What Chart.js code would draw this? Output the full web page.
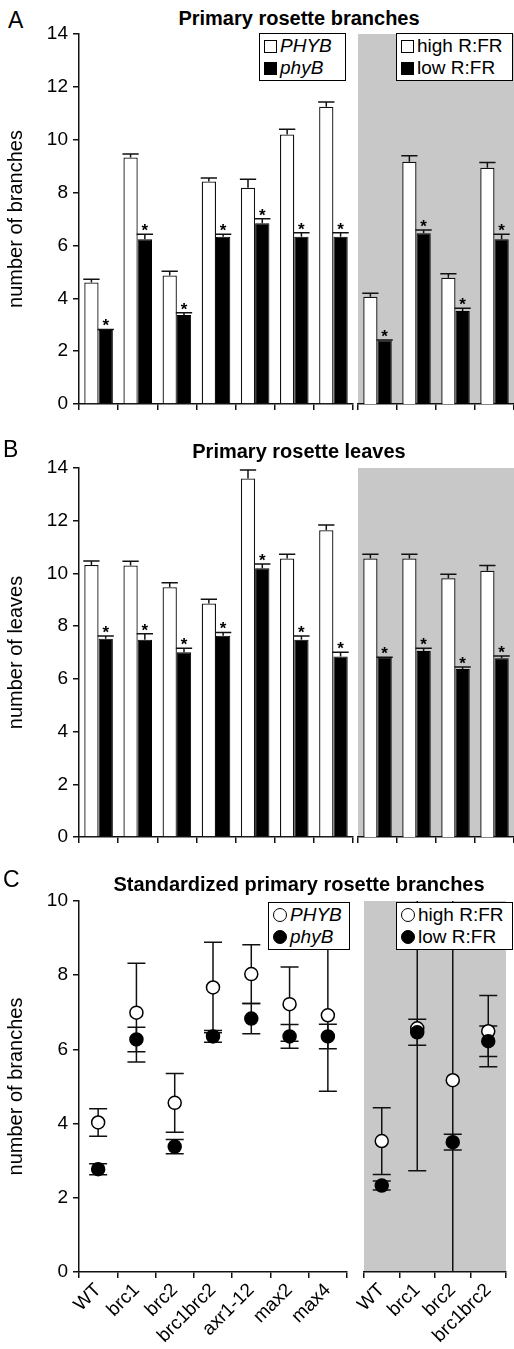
<!DOCTYPE html>
<html>
<head>
<meta charset="utf-8">
<script src="https://cdn.jsdelivr.net/npm/chart.js@4.4.1/dist/chart.umd.min.js"></script>
<style>
  body { margin: 0; background: #fff; font-family: 'Liberation Sans', Arial, sans-serif; }
  #page { position: relative; width: 514px; height: 1349px; overflow: hidden; }
  canvas { position: absolute; }
  .txt { position: absolute; color: #000; white-space: nowrap; }
  .letter { font-size: 23px; line-height: 23px; }
  .title { font-weight: bold; font-size: 20px; line-height: 20px; text-align: center; left: 84px; width: 430px; }
  .legend { position: absolute; box-sizing: border-box; background: #fff; border: 1.5px solid #000;
            font-size: 19px; line-height: 22px; padding: 1px 0 0 4px; height: 48px; }
  .sym { display: inline-block; box-sizing: border-box; width: 13px; height: 13px; border: 1.5px solid #000;
         background: #fff; margin-right: 3px; vertical-align: -1px; }
  .sym.fill { background: #000; }
  .sym.dot { border-radius: 50%; width: 14px; height: 14px; }
</style>
</head>
<body>
<div id="page">
  <div class="txt letter" style="left:8px;top:9px">A</div>
  <div class="txt title" style="top:8px">Primary rosette branches</div>
  <canvas id="aL" width="355" height="440" style="left:0;top:0"></canvas>
  <canvas id="aR" width="158" height="440" style="left:356px;top:0"></canvas>

  <div class="txt letter" style="left:3px;top:438px">B</div>
  <div class="txt title" style="top:441px">Primary rosette leaves</div>
  <canvas id="bL" width="355" height="430" style="left:0;top:440px"></canvas>
  <canvas id="bR" width="158" height="430" style="left:356px;top:440px"></canvas>

  <div class="txt letter" style="left:3px;top:868px">C</div>
  <div class="txt title" style="top:874px">Standardized primary rosette branches</div>
  <canvas id="cL" width="355" height="479" style="left:0;top:870px"></canvas>
  <canvas id="cR" width="158" height="479" style="left:356px;top:870px"></canvas>
</div>
<script>
// categories
const leftCats = ['WT', 'brc1', 'brc2', 'brc1brc2', 'axr1-12', 'max2', 'max4'];
const rightCats = ['WT', 'brc1', 'brc2', 'brc1brc2'];
const leftSeries = ['PHYB', 'phyB'];
const rightSeries = ['high R:FR', 'low R:FR'];

// A - primary rosette branches (mean, SE)
const brPHYB = [4.6, 9.33, 4.86, 8.42, 8.18, 10.2, 11.25];
const brPHYBErr = [0.12, 0.13, 0.16, 0.13, 0.32, 0.2, 0.18];
const brphyB = [2.8, 6.23, 3.37, 6.33, 6.84, 6.33, 6.33];
const brphyBErr = [0.02, 0.19, 0.08, 0.09, 0.17, 0.15, 0.15];
const brHigh = [4.06, 9.17, 4.78, 8.94];
const brHighErr = [0.13, 0.22, 0.15, 0.2];
const brLow = [2.4, 6.46, 3.52, 6.23];
const brLowErr = [0.02, 0.12, 0.1, 0.19];

// B - primary rosette leaves
const lvPHYB = [10.32, 10.3, 9.48, 8.86, 13.6, 10.57, 11.64];
const lvPHYBErr = [0.15, 0.16, 0.17, 0.16, 0.32, 0.16, 0.2];
const lvphyB = [7.52, 7.48, 7.01, 7.64, 10.2, 7.48, 6.85];
const lvphyBErr = [0.11, 0.23, 0.15, 0.12, 0.16, 0.15, 0.16];
const lvHigh = [10.57, 10.57, 9.82, 10.1];
const lvHighErr = [0.16, 0.16, 0.15, 0.2];
const lvLow = [6.8, 7.06, 6.37, 6.78];
const lvLowErr = [0.02, 0.1, 0.08, 0.09];

// C - standardized primary rosette branches (mean, +/- error)
const stPHYB = [4.03, 6.99, 4.56, 7.67, 8.03, 7.22, 6.92];
const stPHYBErr = [0.37, 1.33, 0.79, 1.22, 0.79, 1.0, 2.05];
const stphyB = [2.77, 6.27, 3.38, 6.35, 6.83, 6.35, 6.35];
const stphyBErr = [0.15, 0.33, 0.19, 0.16, 0.41, 0.32, 0.33];
const stHigh = [3.53, 6.57, 5.17, 6.49];
const stHighErr = [0.9, 3.84, 5.3, 0.96];
const stLow = [2.33, 6.46, 3.5, 6.22];
const stLowErr = [0.12, 0.35, 0.21, 0.41];

Chart.defaults.font.family = "'Liberation Sans', Arial, sans-serif";
Chart.defaults.color = '#000';

// grey background behind the right-hand plots
const shade = {
  id: 'shade',
  beforeDraw(chart, args, opts) {
    if (!opts.color) return;
    const a = chart.chartArea, ctx = chart.ctx;
    ctx.save();
    ctx.fillStyle = opts.color;
    ctx.fillRect(a.left, a.top, a.right - a.left, a.bottom - a.top);
    ctx.restore();
  }
};

function drawErrors(chart) {
  const ctx = chart.ctx, y = chart.scales.y, a = chart.chartArea;
  ctx.save();
  ctx.beginPath();
  ctx.rect(a.left - 12, a.top, a.right - a.left + 24, a.bottom - a.top);
  ctx.clip();
  ctx.strokeStyle = '#111';
  ctx.lineWidth = 1.5;
  chart.data.datasets.forEach((ds, i) => {
    if (!ds.errors) return;
    const meta = chart.getDatasetMeta(i);
    meta.data.forEach((el, j) => {
      const v = ds.data[j], e = ds.errors[j];
      const hi = y.getPixelForValue(v + e);
      const lo = y.getPixelForValue(ds.errorBoth ? v - e : v);
      const half = ds.errorBoth ? 9 : el.width / 2 + 1;
      ctx.beginPath();
      ctx.moveTo(el.x, lo); ctx.lineTo(el.x, hi);
      ctx.moveTo(el.x - half, hi); ctx.lineTo(el.x + half, hi);
      if (ds.errorBoth) { ctx.moveTo(el.x - half, lo); ctx.lineTo(el.x + half, lo); }
      ctx.stroke();
    });
  });
  ctx.restore();
}

const errorBars = {
  id: 'errorBars',
  beforeDatasetsDraw(chart) { if (chart.config.type === 'line') drawErrors(chart); },
  afterDatasetsDraw(chart) {
    if (chart.config.type !== 'bar') return;
    drawErrors(chart);
    // significance stars
    const ctx = chart.ctx, y = chart.scales.y;
    ctx.save();
    ctx.fillStyle = '#000';
    ctx.font = "bold 17px 'Liberation Sans', Arial";
    ctx.textAlign = 'center';
    ctx.textBaseline = 'alphabetic';
    chart.data.datasets.forEach((ds, i) => {
      if (!ds.stars) return;
      chart.getDatasetMeta(i).data.forEach((el, j) => {
        ctx.fillText('*', el.x, y.getPixelForValue(ds.data[j] + ds.errors[j]) + 2);
      });
    });
    ctx.restore();
  }
};

function scales(max, showY, yTitle, xHeight, showLabels) {
  const s = {
    x: {
      offset: true,
      grid: { offset: true, drawOnChartArea: false, drawTicks: true, tickLength: 6, color: '#111', lineWidth: 1.5 },
      border: { color: '#111', width: 1.5 },
      ticks: { display: showLabels, autoSkip: false, minRotation: 45, maxRotation: 45, padding: 1,
               font: { size: 19 }, color: '#000' },
      afterFit: sc => { sc.height = xHeight; }
    },
    y: {
      display: showY, min: 0, max: max,
      ticks: { stepSize: 2, font: { size: 19 }, padding: 5, color: '#000' },
      grid: { drawOnChartArea: false, tickLength: 6, color: '#111', lineWidth: 1.5 },
      border: { color: '#111', width: 1.5 },
      title: { display: true, text: yTitle, font: { size: 20 }, color: '#000', padding: { top: 4, bottom: 0 } }
    }
  };
  if (showY) s.y.afterFit = sc => { sc.width = 79; };
  return s;
}

function barChart(id, labels, a, aErr, b, bErr, max, yTitle, left, top, xHeight) {
  return new Chart(document.getElementById(id), {
    type: 'bar',
    data: {
      labels: labels,
      datasets: [
        { data: a, errors: aErr, backgroundColor: '#fff', borderColor: '#111', borderWidth: 1.3,
          categoryPercentage: 0.73, barPercentage: 1 },
        { data: b, errors: bErr, stars: true, backgroundColor: '#000', borderColor: '#000', borderWidth: 1,
          categoryPercentage: 0.73, barPercentage: 1 }
      ]
    },
    options: {
      responsive: false, animation: false,
      layout: { padding: { top: top, left: left ? 0 : 2, right: left ? 2 : 0, bottom: 0 } },
      scales: scales(max, left, yTitle, xHeight, false),
      plugins: { legend: { display: false }, tooltip: { enabled: false },
                 shade: { color: left ? null : '#c8c8c8' } }
    },
    plugins: [shade, errorBars]
  });
}

function dotChart(id, labels, a, aErr, b, bErr, yTitle, left) {
  const pt = { showLine: false, errorBoth: true, pointRadius: 6.5, pointBorderColor: '#000',
               pointBorderWidth: 1.5, pointStyle: 'circle' };
  return new Chart(document.getElementById(id), {
    type: 'line',
    data: {
      labels: labels,
      datasets: [
        Object.assign({ data: a, errors: aErr, pointBackgroundColor: '#fff', order: 2 }, pt),
        Object.assign({ data: b, errors: bErr, pointBackgroundColor: '#000', order: 1 }, pt)
      ]
    },
    options: {
      responsive: false, animation: false,
      layout: { padding: { top: 31, left: left ? 0 : 2, right: left ? 2 : 0, bottom: 0 } },
      scales: scales(10, left, yTitle, 77, true),
      plugins: { legend: { display: false }, tooltip: { enabled: false },
                 shade: { color: left ? null : '#c8c8c8' } }
    },
    plugins: [shade, errorBars]
  });
}

barChart('aL', leftCats, brPHYB, brPHYBErr, brphyB, brphyBErr, 14, 'number of branches', true, 34, 36);
barChart('aR', rightCats, brHigh, brHighErr, brLow, brLowErr, 14, '', false, 34, 36);
barChart('bL', leftCats, lvPHYB, lvPHYBErr, lvphyB, lvphyBErr, 14, 'number of leaves', true, 28, 33);
barChart('bR', rightCats, lvHigh, lvHighErr, lvLow, lvLowErr, 14, '', false, 28, 33);
dotChart('cL', leftCats, stPHYB, stPHYBErr, stphyB, stphyBErr, 'number of branches', true);
dotChart('cR', rightCats, stHigh, stHighErr, stLow, stLowErr, '', false);

// legend boxes
function legend(names, x, y, w, dot, italic) {
  const box = document.createElement('div');
  box.className = 'legend';
  box.style.left = x + 'px'; box.style.top = y + 'px'; box.style.width = w + 'px';
  names.forEach((n, i) => {
    const row = document.createElement('div');
    const sym = document.createElement('span');
    sym.className = 'sym' + (i ? ' fill' : '') + (dot ? ' dot' : '');
    const t = document.createElement(italic ? 'i' : 'span');
    t.textContent = n;
    row.appendChild(sym); row.appendChild(t);
    box.appendChild(row);
  });
  document.getElementById('page').appendChild(box);
}
legend(leftSeries, 259, 33, 87, false, true);
legend(rightSeries, 396, 33, 117, false, false);
legend(leftSeries, 268, 902, 82, true, true);
legend(rightSeries, 396, 902, 117, true, false);
</script>
</body>
</html>
